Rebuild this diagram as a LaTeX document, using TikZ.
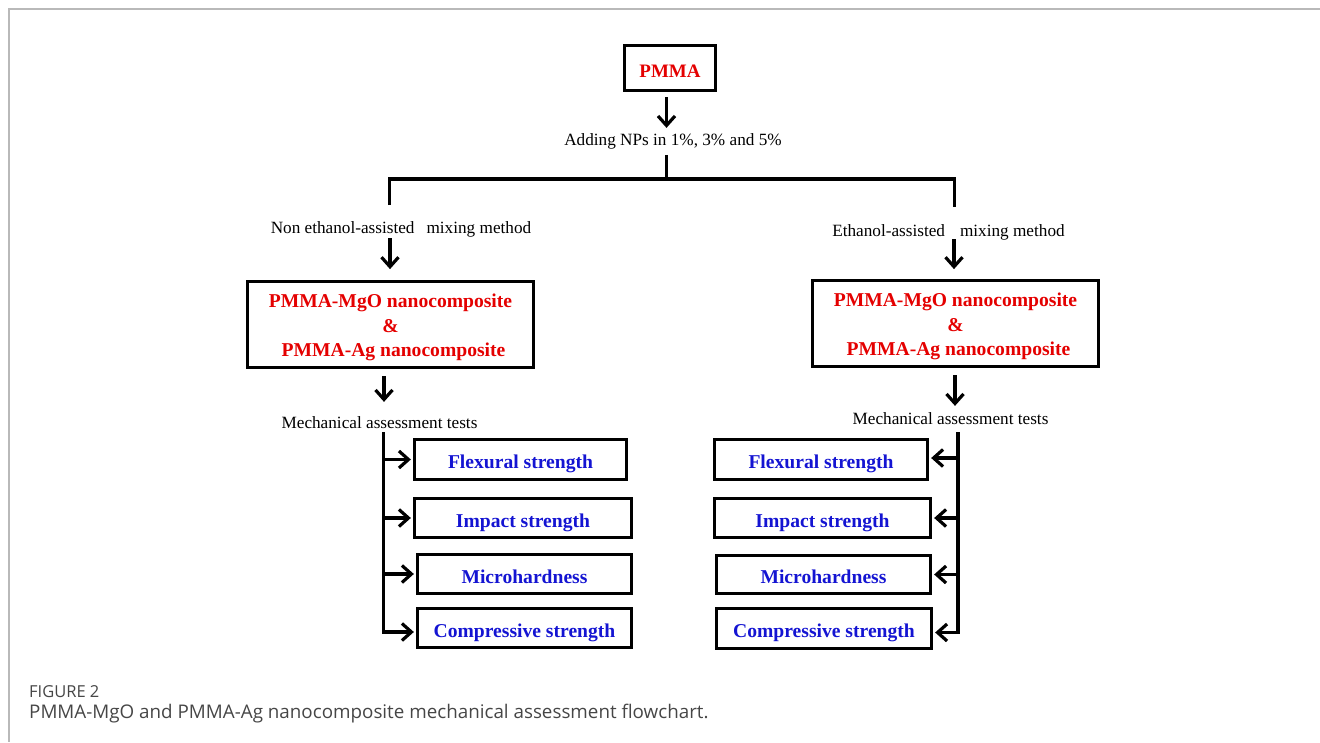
\documentclass[tikz,border=0pt]{standalone}
\usepackage{fontspec}
\setmainfont{Liberation Serif}
\newfontfamily\capfont{Open Sans}
\usetikzlibrary{arrows.meta}
\definecolor{nred}{RGB}{228,0,0}
\definecolor{nblue}{RGB}{20,20,210}
\definecolor{framegray}{RGB}{185,185,185}
\definecolor{capgray}{RGB}{70,70,70}
\begin{document}
\begin{tikzpicture}[x=1pt,y=-1pt,
  line/.style={line width=3.2pt},
  arr/.style={line width=3.2pt,-{Straight Barb[length=9.5pt,width=17pt]}},
  bigbox/.style={draw,line width=3.8pt,inner sep=0pt,minimum width=286pt,minimum height=86pt,
    text=nred,font=\bfseries\fontsize{19.6pt}{24.5pt}\selectfont,align=center},
  testbox/.style={draw,line width=3.3pt,inner sep=0pt,text=nblue,
    font=\bfseries\fontsize{19.6pt}{24pt}\selectfont,text height=18.5pt,text depth=0pt},
  lbl/.style={anchor=base,inner sep=0pt,font=\fontsize{17.2pt}{20pt}\selectfont}
]
\useasboundingbox (0,0) rectangle (1320,742);
\draw[framegray,line width=1.5pt] (1320,9) -- (9,9) -- (9,742);

% top
\node[draw,line width=3.5pt,inner sep=0pt,minimum width=91pt,minimum height=45pt,text=nred,
  font=\bfseries\fontsize{19pt}{22pt}\selectfont,text height=18pt,text depth=0pt] (pmma) at (670,68) {PMMA};
\node[lbl] (add) at (673,145) {Adding NPs in 1\%, 3\% and 5\%};
\node[lbl] (non) at (401,233) {Non ethanol-assisted\hspace{12pt}mixing method};
\node[lbl] (eth) at (948.5,236) {Ethanol-assisted\hspace{15pt}mixing method};

\node[bigbox] (lbox) at (390.5,324.5) {\rule{0pt}{20pt}PMMA-MgO nanocomposite\\ \&\\ \hspace*{6pt}PMMA-Ag nanocomposite};
\node[bigbox] (rbox) at (955.5,323.5) {\rule{0pt}{20pt}PMMA-MgO nanocomposite\\ \&\\ \hspace*{6pt}PMMA-Ag nanocomposite};

\node[lbl] (lmech) at (379.5,428) {Mechanical assessment tests};
\node[lbl] (rmech) at (950.5,424) {Mechanical assessment tests};

% left tests
\node[testbox,minimum width=212pt,minimum height=40pt] (lf) at (520.5,459.5) {Flexural strength};
\node[testbox,minimum width=217pt,minimum height=39pt] (li) at (523,518) {Impact strength};
\node[testbox,minimum width=214pt,minimum height=39pt] (lm) at (524.5,574) {Microhardness};
\node[testbox,minimum width=214pt,minimum height=39pt] (lc) at (524.5,628) {Compressive strength};
% right tests
\node[testbox,minimum width=213pt,minimum height=40pt] (rf) at (821,459.5) {Flexural strength};
\node[testbox,minimum width=216pt,minimum height=39pt] (ri) at (822.5,518) {Impact strength};
\node[testbox,minimum width=214pt,minimum height=38pt] (rm) at (823.5,574.5) {Microhardness};
\node[testbox,minimum width=215pt,minimum height=40pt] (rc) at (824,628.5) {Compressive strength};

% junction coordinates
\coordinate (j0) at (666.5,179);
\coordinate (jl) at (389.5,179);
\coordinate (jr) at (954.5,179);
\coordinate (jlb) at (389.5,205);
\coordinate (jrb) at (954.5,207);
\coordinate (la) at (390,238);
\coordinate (ra) at (954,239);
\coordinate (lb) at (384,376);
\coordinate (rb) at (955,375);
\coordinate (ls0) at (383.5,432);
\coordinate (rs0) at (958,432);

% connectors
\draw[arr,shorten <=5pt,shorten >=5pt] (pmma.south -| j0) -- (add.north -| j0);
\draw[line,shorten <=6pt] (add.south -| j0) -- (j0);
\draw[line] (jlb) -- (jl) -- (jr) -- (jrb);
\draw[arr,shorten >=10.5pt] (la) -- (la |- lbox.north);
\draw[arr,shorten >=9.5pt] (ra) -- (ra |- rbox.north);
\draw[arr,shorten >=14pt] (lb) -- (lb |- lmech.north);
\draw[arr,shorten >=6pt] (rb) -- (rb |- rmech.north);

\draw[arr,shorten >=2pt] (ls0) |- ([yshift=-4pt]lc.west);
\draw[arr,shorten >=2pt] (lf.west -| ls0) -- (lf.west);
\draw[arr,shorten >=2pt] (li.west -| ls0) -- (li.west);
\draw[arr,shorten >=2pt] (lm.west -| ls0) -- (lm.west);

\draw[arr,shorten >=2pt] (rs0) |- ([yshift=-4pt]rc.east);
\draw[arr,shorten >=2pt] ([yshift=1.5pt]rf.east -| rs0) -- ([yshift=1.5pt]rf.east);
\draw[arr,shorten >=2pt] (ri.east -| rs0) -- (ri.east);
\draw[arr,shorten >=2pt] (rm.east -| rs0) -- (rm.east);

% caption
\node[anchor=base west,inner sep=0pt,text=capgray,font=\capfont\fontsize{16.5pt}{18pt}\selectfont] (fig) at (29,697) {FIGURE 2};
\node[anchor=base west,inner sep=0pt,text=capgray,font=\capfont\fontsize{18.8pt}{21pt}\selectfont] (cap) at (29,718) {PMMA-MgO and PMMA-Ag nanocomposite mechanical assessment flowchart.};
\end{tikzpicture}
\end{document}
